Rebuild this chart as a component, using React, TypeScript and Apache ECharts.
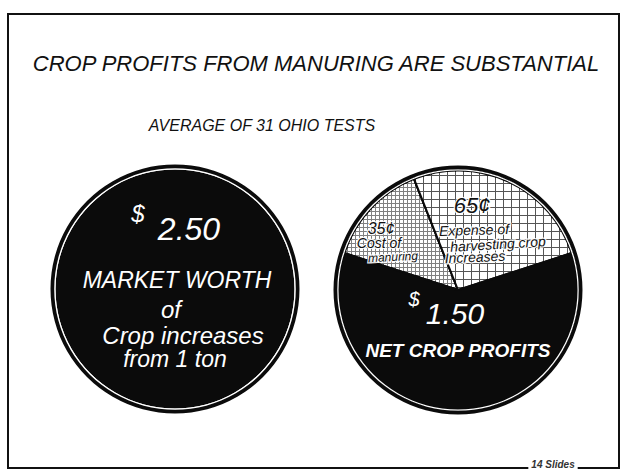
import React, { useEffect, useRef } from "react";
import * as echarts from "echarts";

const titleText = "CROP PROFITS FROM MANURING ARE SUBSTANTIAL";
const subtitleText = "AVERAGE OF 31 OHIO TESTS";

const leftCategories = ["Market worth of crop increases from 1 ton"];
const leftValues = [2.5];

const rightCategories = ["Cost of manuring", "Expense of harvesting crop increases", "Net crop profits"];
const rightValues = [0.35, 0.65, 1.5];

const FONT = "'Liberation Sans', Arial, sans-serif";

function txt(text: string, x: number, y: number, size: number, fill: string, extra: any = {}) {
  return {
    type: "text",
    x,
    y,
    rotation: extra.rotation || 0,
    z: 100,
    style: {
      text,
      fill,
      font: `${extra.style || "italic"} ${extra.weight || "normal"} ${size}px ${FONT}`,
      align: "center",
      verticalAlign: "middle",
      backgroundColor: extra.bg,
      padding: extra.bg ? [0, 3] : 0,
      stroke: extra.halo ? "rgba(255,255,255,0.9)" : undefined,
      lineWidth: extra.halo ? 2.5 : 0,
    },
  };
}

function ringSeries(center: number[], r0: number, r1: number, color: string) {
  return {
    type: "pie",
    center,
    radius: [r0, r1],
    silent: true,
    label: { show: false },
    labelLine: { show: false },
    itemStyle: { color, borderWidth: 0 },
    z: 5,
    data: [{ value: 1, name: "" }],
  };
}

export default function App() {
  const ref = useRef<HTMLDivElement>(null);
  useEffect(() => {
    if (!ref.current) return;
    const chart = echarts.init(ref.current, undefined, { renderer: "svg" });
    const lc = [175, 289];
    const rc = [458, 290];
    const hatchStyles = [
      {
        color: "#808080",
        decal: { symbol: "rect", symbolSize: 1, color: "#ffffff", dashArrayX: [3, 1], dashArrayY: [3, 1], rotation: 0 },
      },
      {
        color: "#555555",
        decal: { symbol: "rect", symbolSize: 1, color: "#ffffff", dashArrayX: [7, 1], dashArrayY: [7, 1], rotation: 0 },
      },
      { color: "#0b0b0b" },
    ];
    chart.setOption({
      animation: false,
      backgroundColor: "#ffffff",
      series: [
        {
          type: "pie",
          center: lc,
          radius: 119.5,
          silent: true,
          label: { show: false },
          labelLine: { show: false },
          itemStyle: { color: "#0b0b0b", borderWidth: 0 },
          data: leftCategories.map((n, i) => ({ name: n, value: leftValues[i] })),
        },
        ringSeries(lc, 119.5, 120.8, "#ffffff"),
        ringSeries(lc, 120.8, 124.5, "#0b0b0b"),
        {
          type: "pie",
          center: rc,
          radius: 119.5,
          startAngle: 162,
          clockwise: true,
          silent: true,
          label: { show: false },
          labelLine: { show: false },
          data: rightCategories.map((n, i) => ({
            name: n,
            value: rightValues[i],
            itemStyle: { ...hatchStyles[i], borderColor: "#0b0b0b", borderWidth: 2 },
          })),
        },
        ringSeries(rc, 119.5, 120.8, "#ffffff"),
        ringSeries(rc, 120.8, 124.5, "#0b0b0b"),
      ],
      graphic: [
        {
          type: "rect",
          shape: { x: 8, y: 14, width: 611, height: 454 },
          style: { fill: "none", stroke: "#111", lineWidth: 2 },
          z: 1,
        },
        txt(titleText, 316, 63, 22, "#111"),
        txt(subtitleText, 262, 125, 16, "#111"),
        // left circle
        txt("$", 138, 213, 24, "#fff"),
        txt("2.50", 189, 229, 32, "#fff"),
        txt("MARKET WORTH", 177, 280, 23, "#fff"),
        txt("of", 171, 309, 24, "#fff"),
        txt("Crop increases", 183, 335, 24, "#fff"),
        txt("from 1 ton", 175, 359, 23, "#fff"),
        // right circle
        txt("65¢", 472, 205, 22, "#111", { halo: true }),
        txt("Expense of", 474, 230, 14, "#111", { rotation: 0.03, halo: true }),
        txt("harvesting crop", 498, 244, 14, "#111", { rotation: 0.06, halo: true }),
        txt("Increases", 475, 257, 14, "#111", { rotation: 0.04, halo: true }),
        txt("35¢", 381, 228, 16, "#111", { halo: true }),
        txt("Cost of", 379, 243, 14, "#111", { halo: true }),
        txt("manuring", 393, 257, 12, "#111", { rotation: 0.05, halo: true }),
        txt("$", 414, 299, 20, "#fff"),
        txt("1.50", 455, 313, 30, "#fff"),
        txt("NET CROP PROFITS", 458, 350, 19, "#fff", { weight: "bold" }),
        txt("14 Slides", 553, 464, 10, "#333", { weight: "bold", bg: "#ffffff" }),
      ],
    });
    return () => chart.dispose();
  }, []);
  return (
    <div
      ref={ref}
      style={{ position: "absolute", left: 0, top: 0, width: 621, height: 470, background: "#fff" }}
    />
  );
}
